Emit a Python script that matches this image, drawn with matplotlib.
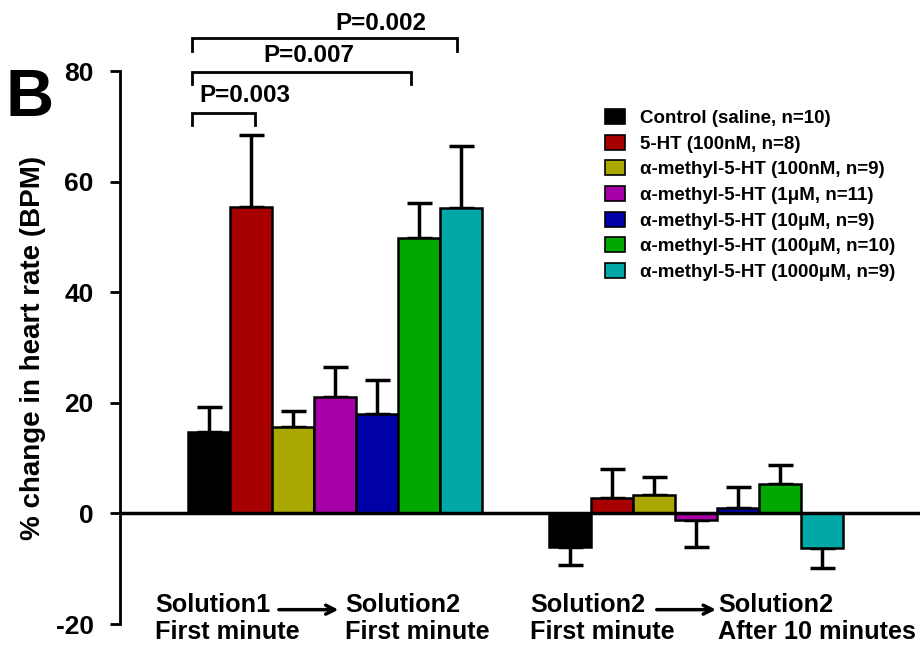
import numpy as np
import matplotlib
matplotlib.use("Agg")
import matplotlib.pyplot as plt
from matplotlib.patches import Patch

plt.rcParams['font.family'] = ['Liberation Sans', 'DejaVu Sans']
plt.rcParams['font.weight'] = 'bold'
plt.rcParams['axes.unicode_minus'] = False

# treatment groups
series = ["Control (saline, n=10)",
          "5-HT (100nM, n=8)",
          "\u03b1-methyl-5-HT (100nM, n=9)",
          "\u03b1-methyl-5-HT (1\u03bcM, n=11)",
          "\u03b1-methyl-5-HT (10\u03bcM, n=9)",
          "\u03b1-methyl-5-HT (100\u03bcM, n=10)",
          "\u03b1-methyl-5-HT (1000\u03bcM, n=9)"]
colors = ["#000000", "#A80000", "#A8A800", "#A800A8", "#0000A8", "#00A800", "#00A8A8"]

# % change in heart rate, mean and SEM for each condition
sol1_to_sol2 = [14.8, 55.5, 15.6, 21.0, 17.9, 49.9, 55.3]
sol1_to_sol2_err = [4.4, 13.0, 3.0, 5.4, 6.3, 6.3, 11.1]
sol2_to_10min = [-6.1, 2.8, 3.3, -1.1, 0.9, 5.4, -6.2]
sol2_to_10min_err = [3.3, 5.2, 3.3, 5.0, 3.9, 3.3, 3.6]

pvals = ["P=0.003", "P=0.007", "P=0.002"]

fig = plt.figure(figsize=(9.24, 6.46), dpi=100)
ax = fig.add_axes([0.13, 0.034, 0.8657, 0.856])

width = 1.0
starts = [0.0, 8.6]
for g, (means, errs) in enumerate([(sol1_to_sol2, sol1_to_sol2_err),
                                   (sol2_to_10min, sol2_to_10min_err)]):
    x = starts[g] + np.arange(len(means)) * width
    ax.bar(x, means, width=width, color=colors, edgecolor='black',
           linewidth=1.8, zorder=3)
    m = np.array(means)
    e = np.array(errs)
    lower = np.where(m < 0, e, 0)
    upper = np.where(m >= 0, e, 0)
    ax.errorbar(x, m, yerr=[lower, upper], fmt='none', ecolor='black',
                elinewidth=2.5, capsize=9, capthick=2.5, zorder=2)

ax.set_xlim(-2.12, 16.93)
ax.set_ylim(-20, 80)
ax.axhline(0, color='black', lw=2.5, zorder=4)

for s in ['top', 'right', 'bottom']:
    ax.spines[s].set_visible(False)
ax.spines['left'].set_linewidth(2)
ax.set_xticks([])
ax.set_yticks([-20, 0, 20, 40, 60, 80])
ax.tick_params(axis='y', length=7, width=2, labelsize=19, pad=12)
ax.set_ylabel("% change in heart rate (BPM)", fontsize=20, fontweight='bold',
              labelpad=7)

fig.text(0.006, 0.82, "B", fontsize=48, fontweight='bold', ha='left', va='baseline')

# significance brackets
brackets = [(-0.4, 1.1, 72.5, 0.86, 75.6),
            (-0.4, 4.8, 79.9, 2.38, 82.8),
            (-0.4, 5.9, 85.9, 4.1, 88.6)]
for (x0, x1, y, tx, ty), p in zip(brackets, pvals):
    ax.plot([x0, x0, x1, x1], [y - 2.3, y, y, y - 2.3], color='black',
            lw=2, clip_on=False, solid_joinstyle='miter')
    ax.text(tx, ty, p, ha='center', va='center', fontsize=17.5, clip_on=False)

# condition labels under the bars
labels = [(-1.29, "Solution1", "First minute"),
          (3.24, "Solution2", "First minute"),
          (7.64, "Solution2", "First minute"),
          (12.12, "Solution2", "After 10 minutes")]
for lx, top, bottom in labels:
    ax.text(lx, -16.5, top, ha='left', va='center', fontsize=18.2, clip_on=False)
    ax.text(lx, -21.4, bottom, ha='left', va='center', fontsize=18.2, clip_on=False)
for a0, a1 in [(1.66, 3.08), (10.66, 12.07)]:
    ax.annotate("", xy=(a1, -17.4), xytext=(a0, -17.4),
                arrowprops=dict(arrowstyle='->', color='black', lw=2.5,
                                mutation_scale=16, shrinkA=0, shrinkB=0))

handles = [Patch(facecolor=c, edgecolor='black', linewidth=1.2) for c in colors]
leg = ax.legend(handles, series, loc='upper left', bbox_to_anchor=(0.585, 0.962),
                frameon=False, fontsize=13.5, handlelength=1.07, handleheight=0.85,
                handletextpad=0.8, labelspacing=0.41)

fig.savefig("out.png", dpi=100)
